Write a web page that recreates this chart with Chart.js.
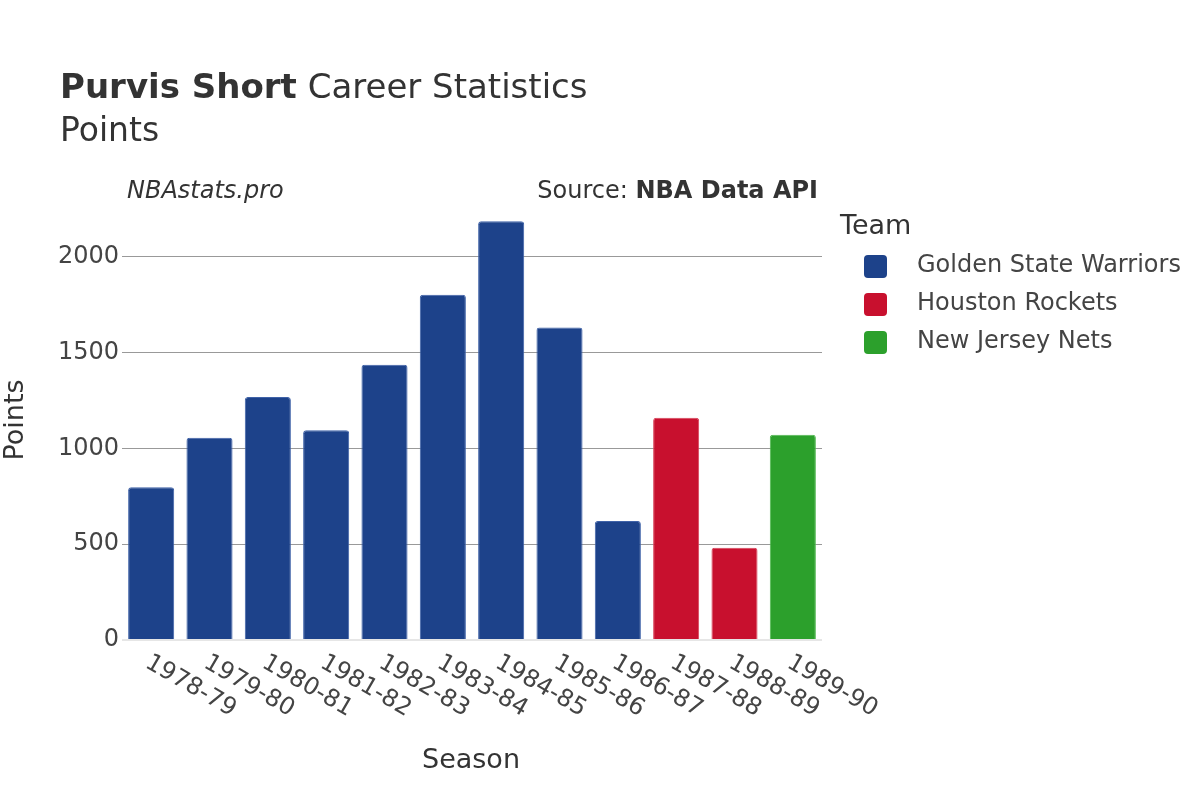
<!DOCTYPE html>
<html>
<head>
<meta charset="utf-8">
<script src="https://cdn.jsdelivr.net/npm/chart.js@4/dist/chart.umd.min.js"></script>
<style>
  body { margin: 0; background: #fff; }
  #wrap { width: 1200px; height: 800px; }
</style>
</head>
<body>
<div id="wrap"><canvas id="myChart" width="1200" height="800"></canvas></div>
<script>
var seasons = ["1978-79", "1979-80", "1980-81", "1981-82", "1982-83", "1983-84",
               "1984-85", "1985-86", "1986-87", "1987-88", "1988-89", "1989-90"];
var gsw = [798, 1056, 1269, 1095, 1437, 1803, 2186, 1632, 622, null, null, null];
var hou = [null, null, null, null, null, null, null, null, null, 1160, 482, null];
var njn = [null, null, null, null, null, null, null, null, null, null, null, 1072];
var yTicks = [0, 500, 1000, 1500, 2000];

var FONT = "'DejaVu Sans', sans-serif";

// titles, notes, legend and rotated season labels
var decor = {
    id: 'decor',
    afterDraw: function (chart) {
        var c = chart.ctx;
        var area = chart.chartArea;
        c.save();
        c.fillStyle = '#333';
        c.textBaseline = 'middle';
        c.textAlign = 'left';

        c.font = 'bold 34px ' + FONT;
        c.fillText('Purvis Short', 60, 89);
        var w = c.measureText('Purvis Short').width;
        c.font = '34px ' + FONT;
        c.fillText(' Career Statistics', 60 + w, 89);
        c.font = '33px ' + FONT;
        c.fillText('Points', 60, 132);

        c.font = 'italic 24px ' + FONT;
        c.fillText('NBAstats.pro', 127, 192);
        c.textAlign = 'right';
        c.font = 'bold 24px ' + FONT;
        c.fillText('NBA Data API', 818, 192);
        var bw = c.measureText('NBA Data API').width;
        c.font = '24px ' + FONT;
        c.fillText('Source: ', 818 - bw, 192);

        // axis titles
        c.textAlign = 'center';
        c.font = '27px ' + FONT;
        c.fillText('Season', 471, 761);
        c.save();
        c.translate(16, 420);
        c.rotate(-Math.PI / 2);
        c.fillText('Points', 0, 0);
        c.restore();

        // season labels
        var xs = chart.scales.x;
        c.font = '24px ' + FONT;
        c.fillStyle = '#444';
        c.textAlign = 'left';
        seasons.forEach(function (s, i) {
            c.save();
            c.translate(xs.getPixelForValue(i) - 4, area.bottom + 21);
            c.rotate(Math.PI / 6);
            c.fillText(s, 0, 0);
            c.restore();
        });

        // legend
        c.fillStyle = '#333';
        c.font = '27px ' + FONT;
        c.fillText('Team', 840, 227);
        c.font = '24px ' + FONT;
        chart.data.datasets.forEach(function (ds, i) {
            var y = 266 + i * 38;
            c.fillStyle = ds.backgroundColor;
            c.beginPath();
            c.roundRect(864, y - 11, 23, 23, 4);
            c.fill();
            c.fillStyle = '#444';
            c.fillText(ds.label, 917, y);
        });
        c.restore();
    }
};

var ctx = document.getElementById('myChart').getContext('2d');
var chart = new Chart(ctx, {
    type: 'bar',
    data: {
        labels: seasons,
        datasets: [{
            label: 'Golden State Warriors',
            backgroundColor: '#1d428a',
            borderColor: '#3f62a8',
            data: gsw
        },
        {
            label: 'Houston Rockets',
            backgroundColor: '#c8102e',
            borderColor: '#d84058',
            data: hou
        },
        {
            label: 'New Jersey Nets',
            backgroundColor: '#2ca02c',
            borderColor: '#50b850',
            data: njn
        }]
    },
    options: {
        responsive: false,
        animation: false,
        layout: { padding: { left: 0, right: 378, top: 211, bottom: 0 } },
        datasets: {
            bar: {
                grouped: false,
                barPercentage: 0.79,
                categoryPercentage: 1,
                borderWidth: 1,
                borderRadius: 3,
                borderSkipped: 'start'
            }
        },
        plugins: {
            legend: { display: false },
            tooltip: { enabled: false }
        },
        scales: {
            x: {
                grid: { display: false },
                border: { display: false },
                ticks: { display: false },
                afterFit: function (s) { s.height = 160; }
            },
            y: {
                min: 0,
                max: 2240,
                afterBuildTicks: function (s) {
                    s.ticks = yTicks.map(function (v) { return { value: v }; });
                },
                afterFit: function (s) { s.width = 122; },
                grid: {
                    drawTicks: false,
                    color: function (c) { return c.tick.value === 0 ? '#e6e6e6' : '#999'; },
                    lineWidth: function (c) { return c.tick.value === 0 ? 2 : 1; }
                },
                border: { display: false },
                ticks: {
                    padding: 3,
                    color: '#444',
                    font: { family: FONT, size: 24 },
                    callback: function (v) { return String(v); }
                }
            }
        }
    },
    plugins: [decor]
});
</script>
</body>
</html>
